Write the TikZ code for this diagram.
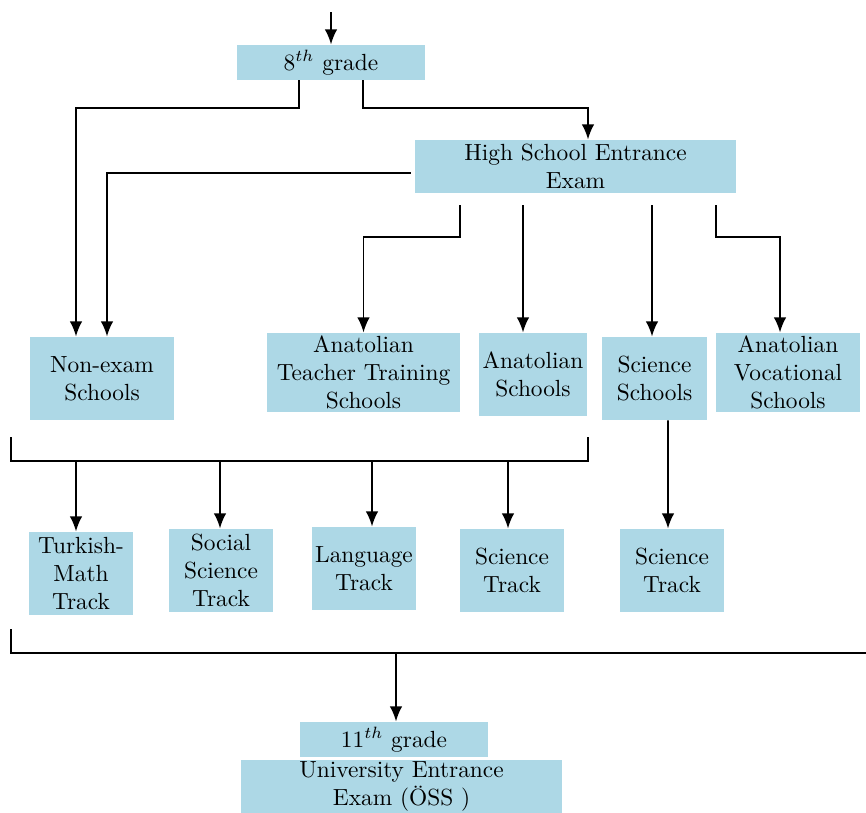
\documentclass[tikz,border=0pt]{standalone}
\usepackage{amsmath}
\usepackage{tikz}
\usetikzlibrary{calc}
\usetikzlibrary{arrows.meta}
\definecolor{boxblue}{RGB}{173,216,230}

\begin{document}
\begin{tikzpicture}[x=0.428pt,y=-0.428pt,
        box/.style 2 args={fill=boxblue,align=center,inner sep=0pt,
            minimum width=#1*0.428pt,minimum height=#2*0.428pt},
        line/.style={line width=0.85pt},
        link/.style={line,-{Latex[length=6.5pt,width=5.4pt]}}]
                \useasboundingbox (0,0) rectangle (866,813);

                \node[box={188}{35}] (eighth) at (331,62.5) {$8^{th}$ grade};
                \node[box={321}{53}] (hsee) at (575.5,166.5) {High School Entrance\\Exam};

                \node[box={144}{83}] (nonexam) at (102,378.5) {Non-exam\\Schools};
                \node[box={193}{79}] (atts) at (363.5,372.5) {Anatolian\\Teacher Training\\Schools};
                \node[box={108}{83}] (anat) at (533,374.5) {Anatolian\\Schools};
                \node[box={105}{83}] (sci) at (654.5,378.5) {Science\\Schools};
                \node[box={144}{79}] (avs) at (788,372.5) {Anatolian\\Vocational\\Schools};

                \node[box={104}{83}] (tm) at (81,573.5) {Turkish-\\Math\\Track};
                \node[box={104}{83}] (ss) at (221,570.5) {Social\\Science\\Track};
                \node[box={104}{83}] (lang) at (364,568.5) {Language\\Track};
                \node[box={104}{83}] (st) at (512,570.5) {Science\\Track};
                \node[box={104}{83}] (stb) at (672,570.5) {Science\\Track};

                \node[box={188}{35}] (eleventh) at (394,739.5) {$11^{th}$ grade};
                \node[box={321}{53}] (uee) at (401.5,786.5) {University Entrance\\Exam (ÖSS )};

                \coordinate (start) at (331,12);
                \coordinate (jl) at (11,437);
                \coordinate (jr) at (588,437);
                \coordinate (jbar) at (0,461);
                \coordinate (kl) at (11,629);
                \coordinate (kr) at (866,653);

                \draw[link] (start) -- (eighth.north);
                \draw[link] ($(eighth.south)+(-32,0)$) -- ++(0,28) -| ($(nonexam.north)+(-26,0)$);
                \draw[link] ($(eighth.south)+(32,0)$) -- ++(0,28) -| ($(hsee.north)+(12.5,0)$);
                \draw[link] ($(hsee.west)+(-4,6.5)$) -| ($(nonexam.north)+(5,0)$);

                \draw[link] ($(hsee.south)+(-115.5,12)$) -- ++(0,32) -| (atts.north);
                \draw[link] ($(anat.north |- hsee.south)+(-10,12)$) -- ($(anat.north)+(-10,0)$);
                \draw[link] ($(sci.north |- hsee.south)+(-2.5,12)$) -- ($(sci.north)+(-2.5,0)$);
                \draw[link] ($(hsee.south)+(140.5,12)$) -- ++(0,32) -| ($(avs.north)+(-8,0)$);

                \draw[line] (jl) -- ++(0,24) -| (jr);
                \draw[link] ($(tm.north |- jbar)+(-5,0)$) -- ($(tm.north)+(-5,0)$);
                \draw[link] ($(ss.north |- jbar)+(-1,0)$) -- ($(ss.north)+(-1,0)$);
                \draw[link] ($(lang.north |- jbar)+(8,0)$) -- ($(lang.north)+(8,0)$);
                \draw[link] ($(st.north |- jbar)+(-4,0)$) -- ($(st.north)+(-4,0)$);
                \draw[link] ($(sci.south)+(13.5,0)$) -- ($(stb.north)+(-4,0)$);

                \draw[line] (kl) |- (kr);
                \draw[link] ($(eleventh.north |- kr)+(2,0)$) -- ($(eleventh.north)+(2,0)$);
            \end{tikzpicture}
\end{document}
